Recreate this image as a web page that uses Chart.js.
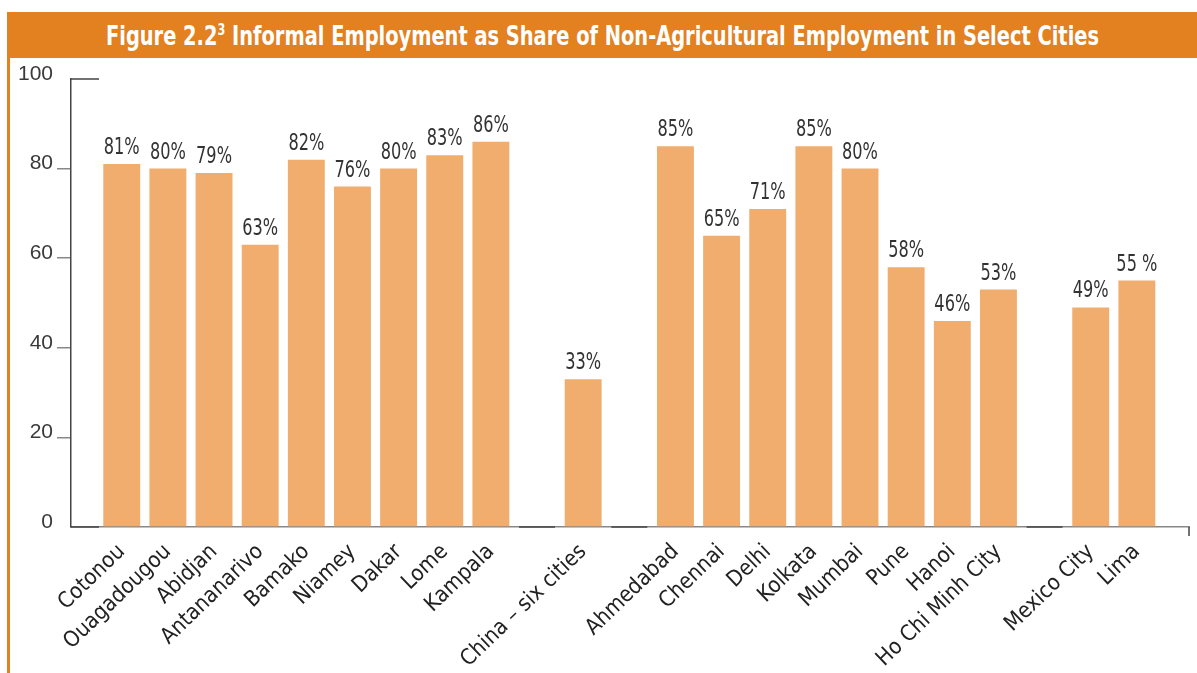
<!DOCTYPE html>
<html>
<head>
<meta charset="utf-8">
<script src="https://cdn.jsdelivr.net/npm/chart.js@4/dist/chart.umd.min.js"></script>
<style>
  html, body { margin: 0; padding: 0; background: #fff; }
  body { width: 1197px; height: 673px; position: relative; overflow: hidden; }
  #title {
    position: absolute; left: 7px; top: 12px; width: 1190px; height: 46px;
    background: #e3801f;
  }
  #titleText {
    position: absolute; left: 0; top: 0; color: #fff; white-space: nowrap;
    font: bold 26px "DejaVu Sans Condensed", sans-serif; line-height: 48px;
    transform-origin: 0 0;
  }
  #titleText sup { font-size: 15px; line-height: 0; vertical-align: 10px; }
  #leftBorder { position: absolute; left: 7px; top: 58px; width: 3px; height: 615px; background: #e3801f; }
  #chart { position: absolute; left: 10px; top: 58px; }
</style>
</head>
<body>
<div id="title"><span id="titleText">Figure 2.2<sup>3</sup> Informal Employment as Share of Non-Agricultural Employment in Select Cities</span></div>
<div id="leftBorder"></div>
<canvas id="chart" width="1187" height="615"></canvas>
<script>
// empty strings / nulls are the gaps between regions
const cities = ['Cotonou', 'Ouagadougou', 'Abidjan', 'Antananarivo', 'Bamako', 'Niamey', 'Dakar', 'Lome', 'Kampala',
  '', 'China \u2013 six cities', '',
  'Ahmedabad', 'Chennai', 'Delhi', 'Kolkata', 'Mumbai', 'Pune', 'Hanoi', 'Ho Chi Minh City',
  '', 'Mexico City', 'Lima'];
const shares = [81, 80, 79, 63, 82, 76, 80, 83, 86,
  null, 33, null,
  85, 65, 71, 85, 80, 58, 46, 53,
  null, 49, 55];
const shareLabels = ['81%', '80%', '79%', '63%', '82%', '76%', '80%', '83%', '86%',
  '', '33%', '',
  '85%', '65%', '71%', '85%', '80%', '58%', '46%', '53%',
  '', '49%', '55 %'];
const yTicks = [0, 20, 40, 60, 80, 100];

const cond = '"DejaVu Sans Condensed", sans-serif';

// squeeze the title into the width it has in the original
const tt = document.getElementById('titleText');
const w = tt.getBoundingClientRect().width;
const k = 993 / w;
tt.style.transform = 'scaleX(' + k + ')';
tt.style.left = (106 - 7) + 'px';

// value labels above the bars + little axis details
const extras = {
  id: 'extras',
  afterDatasetsDraw(chart) {
    const ctx = chart.ctx;
    const meta = chart.getDatasetMeta(0);
    ctx.save();
    ctx.fillStyle = '#333';
    ctx.font = '23px ' + cond;
    ctx.textAlign = 'center';
    ctx.textBaseline = 'alphabetic';
    meta.data.forEach((bar, i) => {
      if (shares[i] == null) return;
      ctx.save();
      ctx.translate(bar.x, bar.y - 10);
      ctx.scale(0.78, 1);
      ctx.fillText(shareLabels[i], 0, 0);
      ctx.restore();
    });
    const area = chart.chartArea;
    const x = chart.scales.x;
    const y = chart.scales.y;
    ctx.strokeStyle = '#444';
    ctx.lineWidth = 1.5;
    ctx.beginPath();
    ctx.moveTo(area.left, y.getPixelForValue(100));
    ctx.lineTo(area.left + 28, y.getPixelForValue(100));
    ctx.moveTo(area.left, area.bottom);
    ctx.lineTo(area.left + 28, area.bottom);
    ctx.moveTo(area.right, area.bottom);
    ctx.lineTo(area.right, area.bottom + 9);
    // gap slots sit on a darker piece of baseline
    shares.forEach((v, i) => {
      if (v != null) return;
      const cx = x.getPixelForValue(i);
      ctx.moveTo(cx - 18, area.bottom);
      ctx.lineTo(cx + 18, area.bottom);
    });
    ctx.stroke();
    ctx.restore();
  }
};

new Chart(document.getElementById('chart'), {
  type: 'bar',
  data: {
    datasets: [{
      data: shares.map((v, i) => ({ x: i, y: v })),
      backgroundColor: '#f0ad6e',
      borderWidth: 0,
      barPercentage: 0.8,
      categoryPercentage: 1
    }]
  },
  options: {
    responsive: false,
    devicePixelRatio: 1,
    animation: false,
    layout: { padding: { top: 21, right: 8, left: 0, bottom: 0 } },
    plugins: { legend: { display: false }, tooltip: { enabled: false } },
    scales: {
      x: {
        type: 'linear',
        offset: false,
        min: -1.1,
        max: 23.13,
        afterBuildTicks: s => { s.ticks = cities.map((_, i) => ({ value: i })); },
        afterFit: s => { s.height = 146; },
        grid: { display: false, offset: false },
        border: { display: true, color: '#888', width: 1.5 },
        ticks: {
          autoSkip: false,
          minRotation: 44,
          maxRotation: 44,
          padding: 4,
          color: '#222',
          font: { family: cond, size: 22 },
          callback: v => cities[v] || ''
        }
      },
      y: {
        min: 0,
        max: 100,
        afterBuildTicks: s => { s.ticks = yTicks.map(v => ({ value: v })); },
        afterFit: s => { s.width = 61; },
        grid: {
          drawOnChartArea: false,
          drawTicks: true,
          tickLength: 14,
          color: ctx => (ctx.tick && (ctx.tick.value === 0 || ctx.tick.value === 100)) ? 'rgba(0,0,0,0)' : '#888',
          lineWidth: 1.5
        },
        border: { display: true, color: '#444', width: 1.5 },
        ticks: {
          padding: 4,
          labelOffset: -5,
          color: '#3a3a3a',
          font: { family: '"Liberation Sans", sans-serif', size: 21 }
        }
      }
    }
  },
  plugins: [extras]
});
</script>
</body>
</html>
